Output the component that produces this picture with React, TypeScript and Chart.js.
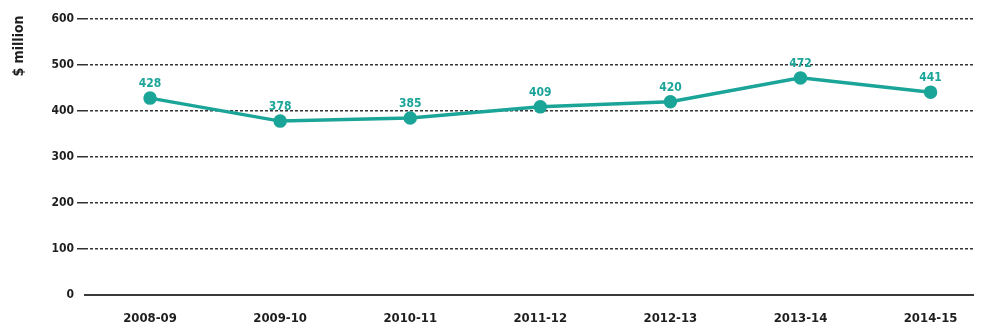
import React, { useEffect, useRef } from "react";
import { Chart, registerables } from "chart.js";

Chart.register(...registerables);

// Annual spending, $ million
const years = ["2008-09", "2009-10", "2010-11", "2011-12", "2012-13", "2013-14", "2014-15"];
const spending = [428, 378, 385, 409, 420, 472, 441];
const yTicks = [0, 100, 200, 300, 400, 500, 600];
const yTitle = "$ million";

const TEAL = "#1ba598";
const INK = "#1e1e1e";
const FONT = "'Liberation Sans Narrow', 'Arial Narrow', 'DejaVu Sans Condensed', sans-serif";

const valueLabels = {
  id: "valueLabels",
  afterDatasetsDraw(chart: any) {
    const { ctx } = chart;
    const meta = chart.getDatasetMeta(0);
    ctx.save();
    ctx.fillStyle = TEAL;
    ctx.font = `bold 12px ${FONT}`;
    ctx.textAlign = "center";
    ctx.textBaseline = "bottom";
    meta.data.forEach((pt: any, i: number) => {
      ctx.fillText(String(spending[i]), pt.x, pt.y - 8);
    });
    ctx.restore();
  },
};

const axisTitle = {
  id: "axisTitle",
  afterDraw(chart: any) {
    const { ctx, chartArea } = chart;
    ctx.save();
    ctx.fillStyle = INK;
    ctx.font = `bold 14px ${FONT}`;
    ctx.textAlign = "center";
    ctx.textBaseline = "middle";
    ctx.translate(19, chartArea.top + 27);
    ctx.rotate(-Math.PI / 2);
    ctx.fillText(yTitle, 0, 0);
    ctx.restore();
  },
};

export default function App() {
  const ref = useRef<HTMLCanvasElement>(null);

  useEffect(() => {
    if (!ref.current) return;
    document.documentElement.style.overflow = "hidden";
    const chart = new Chart(ref.current, {
      type: "line",
      data: {
        datasets: [
          {
            data: spending.map((v, i) => ({ x: i, y: v })),
            borderColor: TEAL,
            backgroundColor: TEAL,
            borderWidth: 3.5,
            pointRadius: 5,
            pointHoverRadius: 5,
            pointBackgroundColor: TEAL,
            pointBorderColor: TEAL,
            tension: 0,
          },
        ],
      },
      plugins: [valueLabels, axisTitle],
      options: {
        animation: false,
        responsive: true,
        maintainAspectRatio: false,
        layout: { padding: { top: 19, right: 0, bottom: 0, left: 0 } },
        plugins: { legend: { display: false }, tooltip: { enabled: false } },
        scales: {
          x: {
            type: "linear",
            min: -0.5,
            max: 6.33,
            afterFit: (scale: any) => {
              scale.height = 36;
            },
            grid: { display: false, drawTicks: false },
            border: { display: true, color: "#3a3a3a", width: 2 },
            ticks: {
              stepSize: 1,
              includeBounds: false,
              autoSkip: false,
              maxRotation: 0,
              padding: 16,
              color: INK,
              font: { family: FONT, size: 13, weight: "bold" },
              callback: (v: any) => (Number.isInteger(v) && years[v] ? years[v] : ""),
            },
          },
          y: {
            min: 0,
            max: 600,
            afterBuildTicks: (scale: any) => {
              scale.ticks = yTicks.map((v) => ({ value: v }));
            },
            afterFit: (scale: any) => {
              scale.width = 85;
            },
            grid: {
              color: (c: any) => (c.tick && c.tick.value === 0 ? "rgba(0,0,0,0)" : "#333"),
              lineWidth: 1.5,
              tickLength: 8,
            },
            border: { display: false, dash: [3, 2] },
            ticks: {
              padding: 3,
              color: INK,
              font: { family: FONT, size: 12, weight: "bold" },
            },
          },
        },
      },
    });
    return () => chart.destroy();
  }, []);

  return (
    <div style={{ position: "fixed", left: 0, top: 0, width: 982, height: 331 }}>
      <canvas ref={ref} />
    </div>
  );
}
